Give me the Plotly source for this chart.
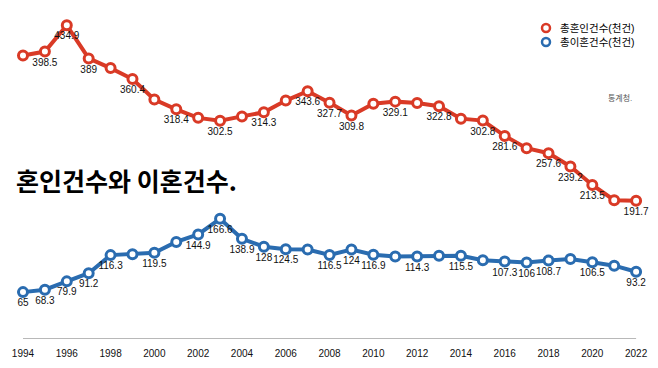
import plotly.graph_objects as go

years = list(range(1994, 2023))
marriage = [393.1, 398.5, 434.9, 389.0, 375.6, 360.4, 332.1, 318.4, 306.6, 302.5,
            308.6, 314.3, 330.6, 343.6, 327.7, 309.8, 326.1, 329.1, 327.1, 322.8,
            305.5, 302.8, 281.6, 264.5, 257.6, 239.2, 213.5, 192.5, 191.7]
divorce = [65.0, 68.3, 79.9, 91.2, 116.3, 117.4, 119.5, 134.6, 144.9, 166.6,
           138.9, 128.0, 124.5, 124.1, 116.5, 124.0, 116.9, 114.3, 114.3, 115.3,
           115.5, 109.2, 107.3, 106.0, 108.7, 110.8, 106.5, 101.7, 93.2]
marriage_labeled = [1995, 1996, 1997, 1999, 2001, 2003, 2005, 2007, 2008, 2009,
                    2011, 2013, 2015, 2016, 2018, 2019, 2020, 2022]
divorce_labeled = [1994, 1995, 1996, 1997, 1998, 2000, 2002, 2003, 2004, 2005, 2006,
                   2008, 2009, 2010, 2012, 2014, 2016, 2017, 2018, 2020, 2022]
tick_years = list(range(1994, 2023, 2))
series_names = ["총혼인건수(천건)", "총이혼건수(천건)"]
title_text = "혼인건수와 이혼건수."
source_text = "통계청."

RED = "#d93a26"
BLUE = "#2a6cb0"
FONT = "Liberation Sans, Noto Sans CJK KR, sans-serif"
W, H, B = 658, 368, 29
PH = H - B  # plot height in px


def fmt(v):
    return "%g" % v


m_text = [fmt(v) if y in marriage_labeled else "" for y, v in zip(years, marriage)]
d_text = [fmt(v) if y in divorce_labeled else "" for y, v in zip(years, divorce)]

fig = go.Figure()
for vals, txt, col in [(marriage, m_text, RED), (divorce, d_text, BLUE)]:
    fig.add_trace(go.Scatter(
        x=years, y=vals, mode="lines+markers+text", text=txt,
        textposition="bottom center",
        textfont=dict(size=10, color="#111", family=FONT),
        line=dict(color=col, width=4),
        marker=dict(symbol="circle", size=9, color="white",
                    line=dict(color=col, width=3)),
        showlegend=False, hoverinfo="skip", cliponaxis=False))

# legend (manual: circle symbol + text)
for i, (name, col) in enumerate(zip(series_names, [RED, BLUE])):
    yc = (PH - (28 + 14 * i)) / PH
    fig.add_shape(type="circle", xref="paper", yref="paper",
                  xsizemode="pixel", ysizemode="pixel",
                  xanchor=546 / W, yanchor=yc, x0=-4, x1=4, y0=-4, y1=4,
                  line=dict(color=col, width=2.5), fillcolor="white")
    fig.add_annotation(text=name, xref="paper", yref="paper",
                       x=558 / W, y=yc, xanchor="left", yanchor="middle",
                       showarrow=False,
                       font=dict(size=10.5, color="#000", family=FONT))

fig.add_shape(type="line", xref="x", yref="y", x0=1994, x1=2022, y0=0, y1=0,
              line=dict(color="#a0a0a0", width=1.5), layer="below")

fig.add_annotation(text="<b>" + title_text + "</b>", xref="paper", yref="paper",
                   x=14 / W, y=(PH - 180) / PH, xanchor="left", yanchor="middle",
                   showarrow=False, font=dict(size=25, color="#000",
                                              family="Noto Sans CJK KR, sans-serif"))
fig.add_annotation(text=source_text, xref="paper", yref="paper",
                   x=634 / W, y=(PH - 98) / PH, xanchor="right", yanchor="middle",
                   showarrow=False, font=dict(size=8, color="#555", family=FONT))

fig.update_layout(
    width=W, height=H,
    margin=dict(l=0, r=0, t=0, b=B),
    paper_bgcolor="white", plot_bgcolor="white",
    font=dict(family=FONT, color="#111"),
    showlegend=False,
    xaxis=dict(range=[1992.95, 2023.0], tickvals=tick_years,
               ticktext=[str(y) for y in tick_years],
               tickfont=dict(size=10, color="#111"), showgrid=False,
               zeroline=False, showline=False, ticks="", ticklabelstandoff=7),
    yaxis=dict(range=[0, 470], visible=False, showgrid=False, zeroline=False),
)

fig.write_html("out.html", config={"displayModeBar": False},
               post_script="document.body.style.margin='0';")
